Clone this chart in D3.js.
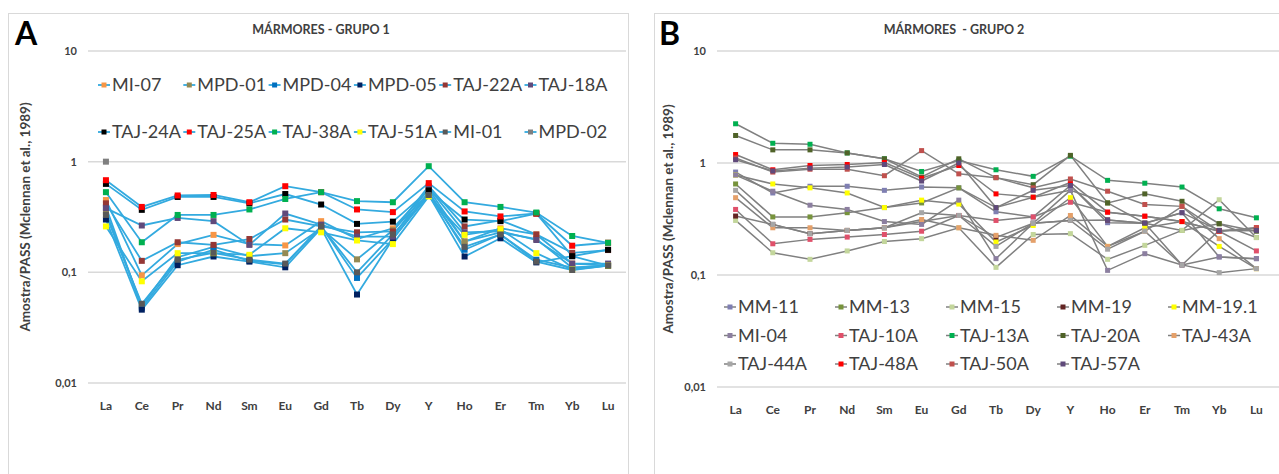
<!DOCTYPE html>
<html>
<head>
<meta charset="utf-8">
<script src="https://cdn.jsdelivr.net/npm/d3@7"></script>
<style>
	body { margin: 0; background: #fff; }
	text { font-family: Lato, "Open Sans", sans-serif; }
</style>
</head>
<body>
<script>
// REE elements on the x axis
var elements = ['La', 'Ce', 'Pr', 'Nd', 'Sm', 'Eu', 'Gd', 'Tb', 'Dy', 'Y', 'Ho', 'Er', 'Tm', 'Yb', 'Lu']
var yTicks = [10, 1, 0.1, 0.01]
var yTickLabels = ['10', '1', '0,1', '0,01']

// Grupo 1
var namesA = ['MI-07', 'MPD-01', 'MPD-04', 'MPD-05', 'TAJ-22A', 'TAJ-18A',
	'TAJ-24A', 'TAJ-25A', 'TAJ-38A', 'TAJ-51A', 'MI-01', 'MPD-02']
var markersA = ['#F79646', '#948A54', '#0070C0', '#002060', '#953735', '#604A7B',
	'#000000', '#FF0000', '#00B050', '#FFFF00', '#595959', '#7F7F7F']
var valuesA = [
	[0.45, 0.094, 0.18, 0.218, 0.18, 0.175, 0.29, 0.2, 0.25, 0.56, 0.19, 0.25, 0.22, 0.12, 0.115],
	[0.35, 0.05, 0.137, 0.17, 0.14, 0.149, 0.25, 0.131, 0.24, 0.52, 0.19, 0.23, 0.2, 0.11, 0.115],
	[0.39, 0.048, 0.125, 0.16, 0.127, 0.118, 0.26, 0.089, 0.2, 0.53, 0.16, 0.22, 0.13, 0.11, 0.115],
	[0.30, 0.046, 0.116, 0.139, 0.125, 0.111, 0.25, 0.063, 0.2, 0.5, 0.139, 0.203, 0.123, 0.14, 0.115],
	[0.42, 0.127, 0.187, 0.177, 0.2, 0.30, 0.26, 0.23, 0.234, 0.6, 0.26, 0.295, 0.22, 0.15, 0.159],
	[0.38, 0.265, 0.31, 0.29, 0.177, 0.34, 0.27, 0.21, 0.21, 0.58, 0.23, 0.235, 0.196, 0.12, 0.12],
	[0.63, 0.367, 0.48, 0.48, 0.42, 0.51, 0.41, 0.274, 0.287, 0.55, 0.30, 0.29, 0.34, 0.14, 0.16],
	[0.68, 0.39, 0.495, 0.50, 0.43, 0.60, 0.53, 0.37, 0.35, 0.64, 0.355, 0.32, 0.34, 0.174, 0.185],
	[0.53, 0.187, 0.33, 0.33, 0.37, 0.46, 0.53, 0.44, 0.43, 0.91, 0.43, 0.39, 0.347, 0.213, 0.185],
	[0.26, 0.083, 0.149, 0.149, 0.144, 0.25, 0.23, 0.194, 0.18, 0.485, 0.218, 0.245, 0.149, 0.106, 0.115],
	[0.33, 0.052, 0.13, 0.15, 0.13, 0.12, 0.26, 0.1, 0.22, 0.5, 0.17, 0.22, 0.125, 0.105, 0.115],
	[1.0, null, null, null, null, null, null, null, null, null, null, null, null, null, null]
]

// Grupo 2
var namesB = ['MM-11', 'MM-13', 'MM-15', 'MM-19', 'MM-19.1',
	'MI-04', 'TAJ-10A', 'TAJ-13A', 'TAJ-20A', 'TAJ-43A',
	'TAJ-44A', 'TAJ-48A', 'TAJ-50A', 'TAJ-57A']
var markersB = ['#7F7FB2', '#77933C', '#C3D69B', '#632523', '#FFFF00',
	'#8C7FA0', '#E0506A', '#00B050', '#4F6228', '#E4A06A',
	'#A6A6A6', '#FF0000', '#C0504D', '#604A7B']
var valuesB = [
	[0.83, 0.54, 0.62, 0.62, 0.57, 0.61, 0.6, 0.367, 0.33, 0.63, 0.293, 0.29, 0.36, 0.145, 0.14],
	[0.65, 0.33, 0.33, 0.36, 0.40, 0.44, 0.60, 0.40, 0.495, 0.57, 0.44, 0.29, 0.25, 0.287, 0.216],
	[0.307, 0.158, 0.138, 0.164, 0.199, 0.211, 0.264, 0.117, 0.23, 0.234, 0.138, 0.184, 0.25, 0.47, 0.216],
	[0.336, 0.283, 0.234, 0.25, 0.264, 0.3, 0.34, 0.216, 0.29, 0.307, 0.31, 0.29, 0.123, 0.25, 0.25],
	[0.78, 0.65, 0.60, 0.54, 0.40, 0.466, 0.43, 0.197, 0.277, 0.49, 0.18, 0.264, 0.3, 0.18, 0.114],
	[0.78, 0.56, 0.42, 0.385, 0.30, 0.283, 0.466, 0.14, 0.29, 0.57, 0.11, 0.155, 0.123, 0.145, 0.14],
	[0.385, 0.19, 0.208, 0.218, 0.23, 0.246, 0.34, 0.307, 0.33, 0.446, 0.364, 0.335, 0.30, 0.246, 0.164],
	[2.24, 1.5, 1.47, 1.23, 1.09, 0.84, 1.05, 0.87, 0.76, 1.15, 0.70, 0.66, 0.61, 0.39, 0.324],
	[1.76, 1.31, 1.31, 1.23, 1.09, 0.75, 1.09, 0.74, 0.64, 1.17, 0.44, 0.53, 0.455, 0.287, 0.246],
	[0.49, 0.264, 0.264, 0.25, 0.264, 0.313, 0.264, 0.226, 0.204, 0.34, 0.18, 0.246, 0.41, 0.211, 0.114],
	[0.57, 0.283, 0.234, 0.25, 0.264, 0.36, 0.34, 0.18, 0.29, 0.307, 0.17, 0.246, 0.123, 0.105, 0.114],
	[1.19, 0.87, 0.95, 0.97, 1.01, 0.73, 0.95, 0.53, 0.495, 0.67, 0.364, 0.335, 0.30, 0.246, 0.264],
	[1.11, 0.83, 0.88, 0.88, 0.77, 1.29, 0.80, 0.74, 0.60, 0.72, 0.56, 0.426, 0.41, 0.246, 0.264],
	[1.07, 0.85, 0.9, 0.92, 0.97, 0.69, 1.0, 0.40, 0.57, 0.63, 0.31, 0.29, 0.36, 0.25, 0.25]
]

var width = 1279,
	height = 474

var svg = d3.select('body').append('svg')
	.attr('width', width)
	.attr('height', height)

var panels = [
	{
		letter: 'A', title: 'MÁRMORES - GRUPO 1',
		names: namesA, markers: markersA, values: valuesA,
		lineColor: '#33AADF', lineW: 1.8, markSize: 6,
		frame: [8, 13, 620, 470],
		left: 88, right: 626, gridRight: 626, top: 51, bottom: 383,
		titleX: 321, letterX: 15, yTitleX: 30,
		legendX: 98, legendColW: 85.3, legendY: 85, legendRowH: 47, legendCols: 6
	},
	{
		letter: 'B', title: 'MÁRMORES  - GRUPO 2',
		names: namesB, markers: markersB, values: valuesB,
		lineColor: '#808080', lineW: 1.5, markSize: 5,
		frame: [654, 13, 640, 470],
		left: 717, right: 1275, gridRight: 1279, top: 51, bottom: 387,
		titleX: 954, letterX: 659, yTitleX: 673,
		legendX: 724, legendColW: 111, legendY: 307, legendRowH: 28.5, legendCols: 5
	}
]

panels.forEach(drawPanel)

function drawPanel(p) {
	var g = svg.append('g')

	g.append('rect')
		.attr('x', p.frame[0] + 0.5)
		.attr('y', p.frame[1] + 0.5)
		.attr('width', p.frame[2])
		.attr('height', p.frame[3])
		.attr('fill', 'white')
		.attr('stroke', '#d9d9d9')

	var x = d3.scaleBand()
		.domain(elements)
		.range([p.left, p.right])

	var y = d3.scaleLog()
		.domain([0.01, 10])
		.range([p.bottom, p.top])

	var cx = d => x(d) + x.bandwidth() / 2

	// grid + y labels
	g.selectAll('.grid')
		.data(yTicks)
		.enter()
		.append('line')
			.attr('x1', p.left)
			.attr('x2', p.gridRight)
			.attr('y1', d => y(d))
			.attr('y2', d => y(d))
			.attr('stroke', '#d9d9d9')
			.attr('stroke-width', 1.5)

	g.selectAll('.ylab')
		.data(yTicks)
		.enter()
		.append('text')
			.attr('x', p.left - 11)
			.attr('y', d => y(d) + 4)
			.attr('text-anchor', 'end')
			.attr('font-size', 11)
			.attr('font-weight', 'bold')
			.attr('fill', '#404040')
			.text((d, i) => yTickLabels[i])

	g.selectAll('.xlab')
		.data(elements)
		.enter()
		.append('text')
			.attr('x', d => cx(d))
			.attr('y', p.bottom + 27)
			.attr('text-anchor', 'middle')
			.attr('font-size', 12)
			.attr('font-weight', 'bold')
			.attr('fill', '#404040')
			.text(d => d)

	// titles
	g.append('text')
		.attr('x', p.titleX)
		.attr('y', 34)
		.attr('text-anchor', 'middle')
		.attr('font-size', 12.5)
		.attr('font-weight', 'bold')
		.attr('fill', '#404040')
		.style('white-space', 'pre')
		.text(p.title)

	g.append('text')
		.attr('x', p.letterX)
		.attr('y', 45)
		.attr('font-family', 'Liberation Sans, Arial, sans-serif')
		.attr('font-size', 32)
		.attr('font-weight', 'bold')
		.attr('fill', '#000')
		.text(p.letter)

	g.append('text')
		.attr('transform', 'translate(' + p.yTitleX + ',' + (p.top + p.bottom) / 2 + ') rotate(-90)')
		.attr('text-anchor', 'middle')
		.attr('font-size', 13.5)
		.attr('font-weight', 'bold')
		.attr('fill', '#404040')
		.text('Amostra/PASS (Mclennan et al., 1989)')

	// series
	var line = d3.line()
		.defined(v => v != null)
		.x((v, i) => cx(elements[i]))
		.y(v => y(v))

	p.values.forEach(function (vals) {
		g.append('path')
			.attr('d', line(vals))
			.attr('fill', 'none')
			.attr('stroke', p.lineColor)
			.attr('stroke-width', p.lineW)
	})

	var s = p.markSize
	p.values.forEach(function (vals, k) {
		g.selectAll('.m' + k)
			.data(vals.map((v, i) => [i, v]).filter(d => d[1] != null))
			.enter()
			.append('rect')
				.attr('x', d => cx(elements[d[0]]) - s / 2)
				.attr('y', d => y(d[1]) - s / 2)
				.attr('width', s)
				.attr('height', s)
				.attr('fill', p.markers[k])
	})

	// legend
	var leg = g.selectAll('.leg')
		.data(p.names)
		.enter()
		.append('g')
			.attr('transform', (d, i) => 'translate(' +
				(p.legendX + (i % p.legendCols) * p.legendColW) + ',' +
				(p.legendY + Math.floor(i / p.legendCols) * p.legendRowH) + ')')

	leg.append('line')
		.attr('x1', 0)
		.attr('x2', 12)
		.attr('stroke', p.lineColor)
		.attr('stroke-width', p.lineW)

	leg.append('rect')
		.attr('x', 3.5)
		.attr('y', -2.5)
		.attr('width', 5)
		.attr('height', 5)
		.attr('fill', (d, i) => p.markers[i])

	leg.append('text')
		.attr('x', 14)
		.attr('y', 6)
		.attr('font-size', 18)
		.attr('fill', '#404040')
		.text(d => d)
}
</script>
</body>
</html>
